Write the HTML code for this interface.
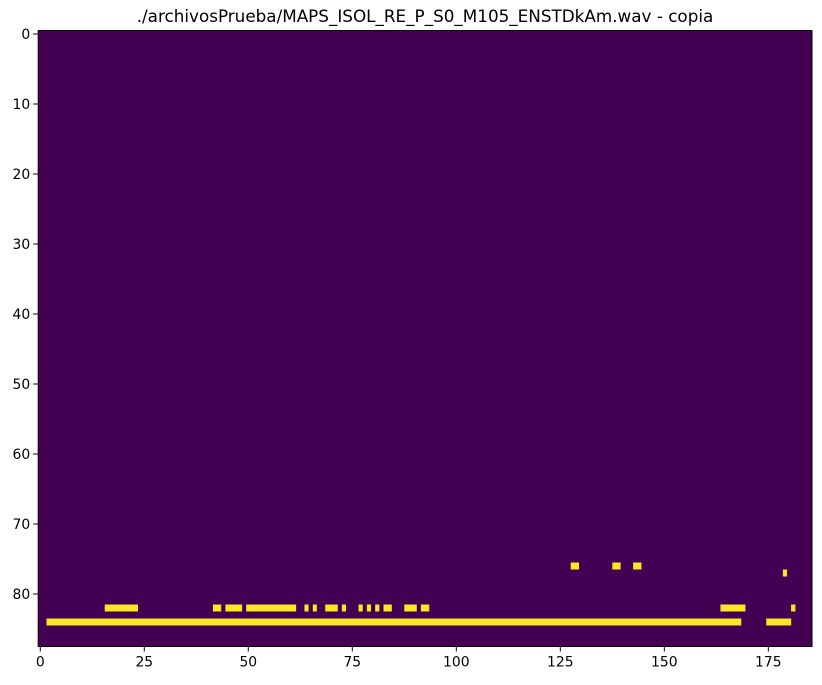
<!DOCTYPE html>
<html><head><meta charset="utf-8"><style>
body{margin:0;background:#fff;width:822px;height:680px;overflow:hidden}
svg text{font-family:"DejaVu Sans","Liberation Sans",sans-serif;fill:#000}
</style></head><body>
<svg id="chart" width="822" height="680" xmlns="http://www.w3.org/2000/svg">
<text x="425" y="22" font-size="16.8" text-anchor="middle">./archivosPrueba/MAPS_ISOL_RE_P_S0_M105_ENSTDkAm.wav - copia</text>
<g id="plot"></g>
</svg>
<script>
const nCols = 186;
const nRows = 88;
// active cells as [row, startCol, endCol] inclusive
const segRows = [84, 84, 82, 82, 82, 82, 82, 82, 82, 82, 82, 82, 82, 82, 82, 82, 82, 82, 82, 76, 76, 76, 77];
const segStart = [2, 175, 16, 42, 45, 50, 64, 66, 69, 73, 77, 79, 81, 83, 88, 92, 164, 181, 181, 128, 138, 143, 179];
const segEnd = [168, 180, 23, 43, 48, 61, 64, 66, 71, 73, 77, 79, 81, 84, 90, 93, 169, 181, 181, 129, 139, 144, 179];
const xTicks = [0, 25, 50, 75, 100, 125, 150, 175];
const yTicks = [0, 10, 20, 30, 40, 50, 60, 70, 80];

const NS = "http://www.w3.org/2000/svg";
const L = 38.2, R = 812, T = 30.5, B = 646.5;
const cw = (R - L) / nCols, rh = (B - T) / nRows;
const xs = c => L + (c + 0.5) * cw;
const ys = r => T + (r + 0.5) * rh;
const g = document.getElementById('plot');
function mk(tag, attrs){const e=document.createElementNS(NS,tag);for(const k in attrs)e.setAttribute(k,attrs[k]);g.appendChild(e);return e;}

const bg = mk('rect',{x:L,y:T,width:R-L,height:B-T,fill:'#440154'});



for (let i = 0; i < segRows.length; i++) {
  const x0 = xs(segStart[i]) - cw/2, x1 = xs(segEnd[i]) + cw/2;
  const y0 = ys(segRows[i]) - rh/2;
  const r = mk('rect',{x:x0,y:y0,width:x1-x0,height:rh,fill:'#fde725'});
  
  
}

const frame = mk('rect',{x:L,y:T,width:R-L,height:B-T,fill:'none',stroke:'#000','stroke-width':1});



xTicks.forEach(v => {
  const x = xs(v);
  const t = mk('line',{x1:x,x2:x,y1:B,y2:B+5,stroke:'#000','stroke-width':1});
  
  
  const lb = mk('text',{x:x,y:B+20,'font-size':13.9,'text-anchor':'middle'});
  lb.textContent = v;
  
  
});
yTicks.forEach(v => {
  const y = ys(v);
  const t = mk('line',{x1:L-5,x2:L,y1:y,y2:y,stroke:'#000','stroke-width':1});
  
  
  const lb = mk('text',{x:L-8,y:y+5,'font-size':13.9,'text-anchor':'end'});
  lb.textContent = v;
  
  
});
</script>
</body></html>
